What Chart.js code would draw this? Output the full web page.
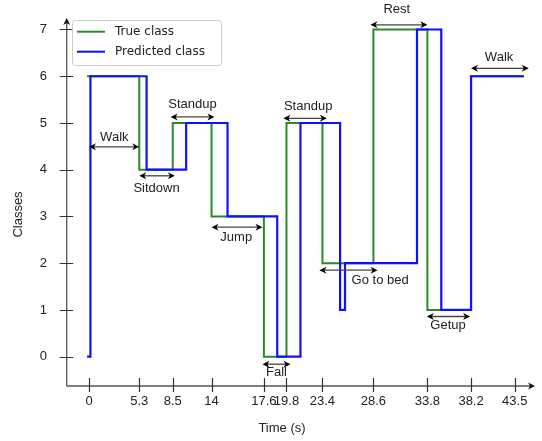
<!DOCTYPE html>
<html>
<head>
<meta charset="utf-8">
<title>True vs predicted activity class</title>
<script src="https://cdn.jsdelivr.net/npm/chart.js@4.4.1/dist/chart.umd.min.js"></script>
<style>
  html, body { margin: 0; padding: 0; background: #ffffff; }
  canvas { display: block; }
</style>
</head>
<body>
<canvas id="chart" width="542" height="441"></canvas>
<script>
// Time axis ticks (s) and their labels
const tickTimes = [0, 5.3, 8.5, 14, 17.6, 19.8, 23.4, 28.6, 33.8, 38.2, 43.5];
const tickLabels = ['0', '5.3', '8.5', '14', '17.6', '19.8', '23.4', '28.6', '33.8', '38.2', '43.5'];
const classTicks = [0, 1, 2, 3, 4, 5, 6, 7];

// Ground-truth class: each value holds from its time until the next time
const trueTimes = [-0.2, 5.3, 8.5, 14, 17.6, 19.8, 23.4, 28.6, 33.8, 38.2, 44.6];
const trueClasses = [6, 4, 5, 3, 0, 5, 2, 7, 1, 6, 6];

// Predicted class, same convention
const predTimes = [-0.2, 0.15, 6.0, 10.4, 15.1, 18.9, 21.2, 25.2, 25.7, 32.8, 35.2, 38.2, 44.6];
const predClasses = [0, 6, 4, 5, 3, 0, 5, 1, 2, 7, 1, 6, 6];

// Activity phases marked with double-headed arrows
const phaseNames = ['Walk', 'Sitdown', 'Standup', 'Jump', 'Fall', 'Standup', 'Go to bed', 'Rest', 'Getup', 'Walk'];
const phaseStart = [0, 5.3, 8.3, 14, 17.5, 19.5, 23.1, 28.3, 33.75, 38.2];
const phaseEnd = [5.3, 8.8, 14.2, 17.5, 20.2, 23.85, 29.0, 33.8, 38.1, 45.2];
const phaseLevel = [4.49, 3.87, 5.13, 2.77, -0.16, 5.10, 1.85, 7.10, 0.86, 6.17];
const phaseLabelTime = [2.67, 6.95, 11.3, 15.7, 18.83, 21.97, 29.25, 30.85, 35.88, 41.6];
const phaseLabelLevel = [4.70, 3.61, 5.39, 2.55, -0.34, 5.35, 1.63, 7.43, 0.66, 6.41];

const SANS = '"Liberation Sans", Arial, sans-serif';
const LEGEND_FONT = '"DejaVu Sans", sans-serif';
const TEXT = '#222222';

// A linear axis whose time-to-pixel mapping is piecewise linear between knots,
// so the labelled instants sit at hand-placed spacings.
class WarpedScale extends Chart.LinearScale {
  static id = 'warped';
  static defaults = { ticks: { callback: (v) => String(v) } };

  warp(v) {
    const at = this.options.knots.at, pos = this.options.knots.pos;
    const n = at.length;
    let i = 0;
    if (v <= at[0]) i = 0;
    else if (v >= at[n - 1]) i = n - 2;
    else { while (i < n - 2 && v > at[i + 1]) i++; }
    const t = (v - at[i]) / (at[i + 1] - at[i]);
    return pos[i] + t * (pos[i + 1] - pos[i]);
  }
  unwarp(p) {
    const at = this.options.knots.at, pos = this.options.knots.pos;
    const n = pos.length;
    let i = 0;
    if (p <= pos[0]) i = 0;
    else if (p >= pos[n - 1]) i = n - 2;
    else { while (i < n - 2 && p > pos[i + 1]) i++; }
    const t = (p - pos[i]) / (pos[i + 1] - pos[i]);
    return at[i] + t * (at[i + 1] - at[i]);
  }
  getPixelForValue(value) {
    if (value === null || value === undefined || isNaN(value)) return NaN;
    const a = this.warp(this.min), b = this.warp(this.max);
    return this.getPixelForDecimal((this.warp(value) - a) / (b - a));
  }
  getValueForPixel(pixel) {
    const a = this.warp(this.min), b = this.warp(this.max);
    return this.unwarp(a + this.getDecimalForPixel(pixel) * (b - a));
  }
}
Chart.register(WarpedScale);

function toPoints(xs, ys) {
  return xs.map((x, i) => ({ x: x, y: ys[i] }));
}

function arrowHead(ctx, x, y, dx, dy, len, half) {
  // filled barbed head pointing along (dx, dy)
  const nx = -dy, ny = dx;
  ctx.beginPath();
  ctx.moveTo(x, y);
  ctx.lineTo(x - dx * len + nx * half, y - dy * len + ny * half);
  ctx.lineTo(x - dx * len * 0.7, y - dy * len * 0.7);
  ctx.lineTo(x - dx * len - nx * half, y - dy * len - ny * half);
  ctx.closePath();
  ctx.fill();
}

// Axes drawn as arrows with ticks crossing the axis line
const axesPlugin = {
  id: 'arrowAxes',
  beforeDatasetsDraw(chart) {
    const { ctx, chartArea, scales } = chart;
    const xs = scales.x, ys = scales.y;
    const x0 = chartArea.left - 0.3, y0 = chartArea.bottom;
    ctx.save();
    ctx.strokeStyle = '#555555';
    ctx.lineWidth = 1.3;
    ctx.beginPath();
    ctx.moveTo(x0, y0);
    ctx.lineTo(x0, chartArea.top + 4);
    ctx.moveTo(x0, y0);
    ctx.lineTo(chartArea.right - 4, y0);
    ctx.stroke();
    ctx.fillStyle = '#111111';
    arrowHead(ctx, x0, chartArea.top, 0, -1, 7, 3.5);
    arrowHead(ctx, chartArea.right, y0, 1, 0, 7, 3.5);

    ctx.strokeStyle = '#333333';
    ctx.lineWidth = 1.2;
    ctx.beginPath();
    ys.ticks.forEach((t) => {
      const py = Math.round(ys.getPixelForValue(t.value)) + 0.5;
      ctx.moveTo(x0 - 7, py);
      ctx.lineTo(x0 + 6.5, py);
    });
    xs.ticks.forEach((t) => {
      const px = Math.round(xs.getPixelForValue(t.value)) + 0.5;
      ctx.moveTo(px, y0 - 8);
      ctx.lineTo(px, y0 + 6);
    });
    ctx.stroke();

    // axis titles
    ctx.fillStyle = TEXT;
    ctx.font = '13px ' + SANS;
    ctx.textAlign = 'center';
    ctx.textBaseline = 'middle';
    ctx.fillText('Time (s)', 282, 428);
    ctx.save();
    ctx.translate(18.5, 214.5);
    ctx.rotate(-Math.PI / 2);
    ctx.fillText('Classes', 0, 0);
    ctx.restore();
    ctx.restore();
  }
};

// Phase arrows with their names, plus the framed legend
const overlayPlugin = {
  id: 'phasesAndLegend',
  afterDatasetsDraw(chart) {
    const { ctx, scales } = chart;
    const xs = scales.x, ys = scales.y;
    ctx.save();
    phaseNames.forEach((name, i) => {
      const xa = xs.getPixelForValue(phaseStart[i]);
      const xb = xs.getPixelForValue(phaseEnd[i]);
      const y = ys.getPixelForValue(phaseLevel[i]);
      ctx.strokeStyle = '#444444';
      ctx.lineWidth = 1.3;
      ctx.beginPath();
      ctx.moveTo(xa + 3, y);
      ctx.lineTo(xb - 3, y);
      ctx.stroke();
      ctx.fillStyle = '#000000';
      arrowHead(ctx, xa, y, -1, 0, 7, 3.5);
      arrowHead(ctx, xb, y, 1, 0, 7, 3.5);
      ctx.fillStyle = TEXT;
      ctx.font = '13px ' + SANS;
      ctx.textAlign = 'center';
      ctx.textBaseline = 'middle';
      ctx.fillText(name, xs.getPixelForValue(phaseLabelTime[i]), ys.getPixelForValue(phaseLabelLevel[i]));
    });

    // legend
    const bx = 72.5, by = 20.5, bw = 149, bh = 45;
    ctx.fillStyle = 'rgba(255,255,255,0.85)';
    ctx.strokeStyle = '#cccccc';
    ctx.lineWidth = 1;
    ctx.beginPath();
    ctx.roundRect(bx, by, bw, bh, 3);
    ctx.fill();
    ctx.stroke();
    const rows = [chart.data.datasets[0], chart.data.datasets[1]];
    rows.forEach((ds, i) => {
      const ly = 31.7 + i * 20;
      ctx.strokeStyle = ds.borderColor;
      ctx.lineWidth = 2;
      ctx.beginPath();
      ctx.moveTo(77, ly);
      ctx.lineTo(105, ly);
      ctx.stroke();
      ctx.fillStyle = TEXT;
      ctx.font = '12px ' + LEGEND_FONT;
      ctx.textAlign = 'left';
      ctx.textBaseline = 'middle';
      ctx.fillText(ds.label, 115, ly + 0.5);
    });
    ctx.restore();
  }
};

new Chart(document.getElementById('chart'), {
  type: 'line',
  data: {
    datasets: [
      {
        label: 'True class',
        data: toPoints(trueTimes, trueClasses),
        borderColor: '#2a8a2a',
        borderWidth: 2,
        stepped: 'before',
        pointRadius: 0,
        fill: false,
        order: 2
      },
      {
        label: 'Predicted class',
        data: toPoints(predTimes, predClasses),
        borderColor: '#1010ff',
        borderWidth: 2.2,
        stepped: 'before',
        pointRadius: 0,
        fill: false,
        order: 1
      }
    ]
  },
  options: {
    responsive: false,
    animation: false,
    devicePixelRatio: 1,
    layout: { padding: { top: 18, right: 7, left: 0, bottom: 0 } },
    plugins: { legend: { display: false }, tooltip: { enabled: false } },
    elements: { line: { borderJoinStyle: 'miter', borderCapStyle: 'butt' } },
    scales: {
      x: {
        type: 'warped',
        knots: {
          at: [0, 5.3, 8.5, 14, 17.6, 19.8, 23.4, 28.6, 33.8, 38.2, 43.5],
          pos: [0, 50.3, 83.8, 122.6, 175, 197.6, 233.6, 284.6, 338.6, 382.3, 426]
        },
        min: -2.32,
        max: 45.96,
        bounds: 'data',
        grid: { display: false, drawTicks: false },
        border: { display: false },
        afterBuildTicks: (scale) => { scale.ticks = tickTimes.map((v) => ({ value: v })); },
        afterFit: (scale) => {
          scale.height = 55;
          scale.paddingLeft = 0;
          scale.paddingRight = 0;
        },
        ticks: {
          autoSkip: false,
          maxRotation: 0,
          minRotation: 0,
          padding: 8,
          color: TEXT,
          font: { family: SANS, size: 13 },
          callback: (value, index) => tickLabels[index]
        }
      },
      y: {
        type: 'linear',
        min: -0.627,
        max: 7.246,
        grid: { display: false, drawTicks: false },
        border: { display: false },
        afterBuildTicks: (scale) => { scale.ticks = classTicks.map((v) => ({ value: v })); },
        afterFit: (scale) => {
          scale.width = 67;
          scale.paddingTop = 0;
          scale.paddingBottom = 0;
        },
        ticks: {
          padding: 20,
          color: TEXT,
          font: { family: SANS, size: 13 },
          callback: (value) => String(value)
        }
      }
    }
  },
  plugins: [axesPlugin, overlayPlugin]
});
</script>
</body>
</html>
